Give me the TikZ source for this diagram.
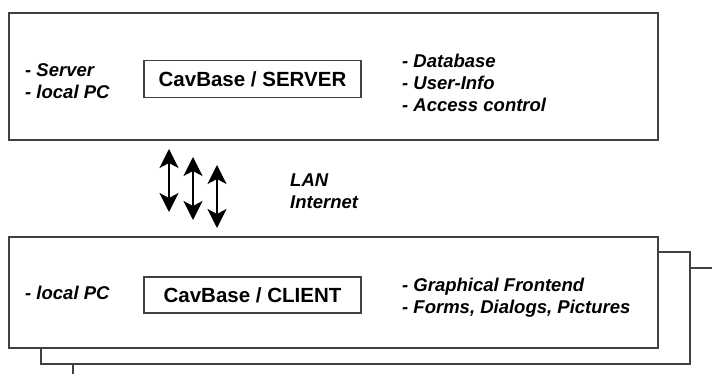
\documentclass[tikz,border=0pt]{standalone}
\usepackage{fontspec}
\setmainfont{Liberation Sans}
\usetikzlibrary{arrows.meta}

\newcommand{\titlefont}{\fontsize{20.5}{24}\selectfont\bfseries}
\newcommand{\notefont}{\fontsize{18.5}{22}\selectfont\bfseries\itshape}

\begin{document}
\begin{tikzpicture}[x=1pt,y=-1pt,
        pane/.style={draw=black!75,line width=1.3pt,fill=white},
        title/.style={draw=black!75,line width=1.2pt,minimum width=217pt,inner sep=0pt,text depth=0pt,font=\titlefont},
        note/.style={anchor=west,align=left,inner sep=0pt,font=\notefont},
        link/.style={{Stealth[length=19pt,width=19pt,inset=5pt]}-{Stealth[length=19pt,width=19pt,inset=5pt]},line width=1.8pt}]
        \useasboundingbox (0,0) rectangle (712,374);
        \clip (0,0) rectangle (712,374);

        % server
        \draw[pane] (9,13) rectangle (658,140);
        \node[title,minimum height=37pt] (server) at (252.5,78.7) {CavBase / SERVER};
        \node[note] (serverhost) at (25,81) {- Server\\- local PC};
        \node[note] (servertasks) at (402,83) {- Database\\- User-Info\\- Access control};

        % connection
        \foreach \i/\x/\t in {1/169/149,2/193/157,3/217/165} {
            \coordinate (up\i) at (\x,\t);
            \coordinate (down\i) at (\x,\t+63);
            \draw[link] (up\i) -- (down\i);
        }
        \node[note] (net) at (290,191.5) {LAN\\Internet};

        % clients, stacked
        \draw[pane] (73,268) rectangle (722,380);
        \draw[pane] (41,252) rectangle (690,364);
        \draw[pane] (9,237) rectangle (658,348);
        \node[title,minimum height=36pt] (client) at (252.5,295) {CavBase / CLIENT};
        \node[note] (clienthost) at (25,293) {- local PC};
        \node[note] (clienttasks) at (402,297.7) {- Graphical Frontend\\- Forms, Dialogs, Pictures};
    \end{tikzpicture}
\end{document}
